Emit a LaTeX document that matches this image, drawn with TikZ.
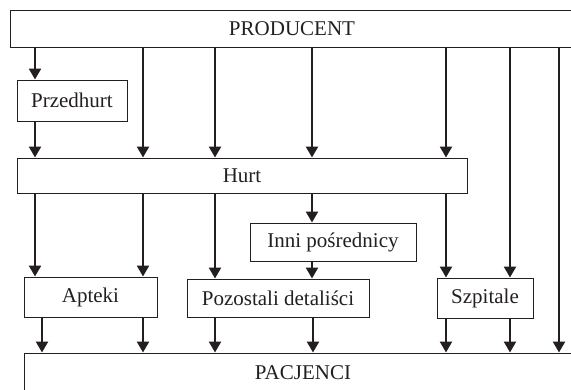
\documentclass[tikz,border=0pt]{standalone}
\usepackage{fontspec}
\setmainfont{Liberation Serif}
\usetikzlibrary{arrows.meta}
\definecolor{ink}{HTML}{231F20}
\begin{document}
\begin{tikzpicture}[x=1pt,y=-1pt,
  box/.style={draw=ink,line width=1pt,inner sep=0pt,text=ink,font=\fontsize{21}{25}\selectfont},
  arr/.style={line width=2.5pt,draw=ink,-{Triangle[length=11pt,width=12pt]}}]
\useasboundingbox (0,0) rectangle (571,389);
\node[box,minimum width=564pt,minimum height=37pt] (prod) at (292,28.5) {PRODUCENT};
\node[box,minimum width=558pt,minimum height=40pt] (pacj) at (303,373) {PACJENCI};
\node[box,minimum width=110pt,minimum height=41pt] (przed) at (72,100.5) {Przedhurt};
\node[box,minimum width=450pt,minimum height=35pt] (hurt) at (242,175.5) {Hurt};
\node[box,minimum width=166pt,minimum height=38pt] (inni) at (333,242) {Inni pośrednicy};
\node[box,minimum width=133pt,minimum height=40pt] (apt) at (90.5,297) {Apteki};
\node[box,minimum width=182pt,minimum height=38pt] (poz) at (278,298) {Pozostali detaliści};
\node[box,minimum width=96pt,minimum height=40pt] (szp) at (485,298) {Szpitale};
% x = 35
\draw[arr] (prod.south -| 35,0) -- (przed.north -| 35,0);
\draw[arr] (przed.south -| 35,0) -- (hurt.north -| 35,0);
\draw[arr] (hurt.south -| 35,0) -- (apt.north -| 35,0);
\draw[arr] (apt.south -| 42,0) -- (pacj.north -| 42,0);
% x = 143
\draw[arr] (prod.south -| 143,0) -- (hurt.north -| 143,0);
\draw[arr] (hurt.south -| 143,0) -- (apt.north -| 143,0);
\draw[arr] (apt.south -| 143,0) -- (pacj.north -| 143,0);
% x = 215
\draw[arr] (prod.south -| 215,0) -- (hurt.north -| 215,0);
\draw[arr] (hurt.south -| 215,0) -- (poz.north -| 215,0);
\draw[arr] (poz.south -| 215,0) -- (pacj.north -| 215,0);
% x = 312
\draw[arr] (prod.south -| 312,0) -- (hurt.north -| 312,0);
\draw[arr] (hurt.south -| 312,0) -- (inni.north -| 312,0);
\draw[arr] (inni.south -| 312,0) -- (poz.north -| 312,0);
\draw[arr] (poz.south -| 313,0) -- (pacj.north -| 313,0);
% x = 446
\draw[arr] (prod.south -| 446,0) -- (hurt.north -| 446,0);
\draw[arr] (hurt.south -| 446,0) -- (szp.north -| 446,0);
\draw[arr] (szp.south -| 446,0) -- (pacj.north -| 446,0);
% x = 510
\draw[arr] (prod.south -| 510,0) -- (szp.north -| 510,0);
\draw[arr] (szp.south -| 510,0) -- (pacj.north -| 510,0);
% x = 559
\draw[arr] (prod.south -| 559,0) -- (pacj.north -| 559,0);
\end{tikzpicture}
\end{document}
